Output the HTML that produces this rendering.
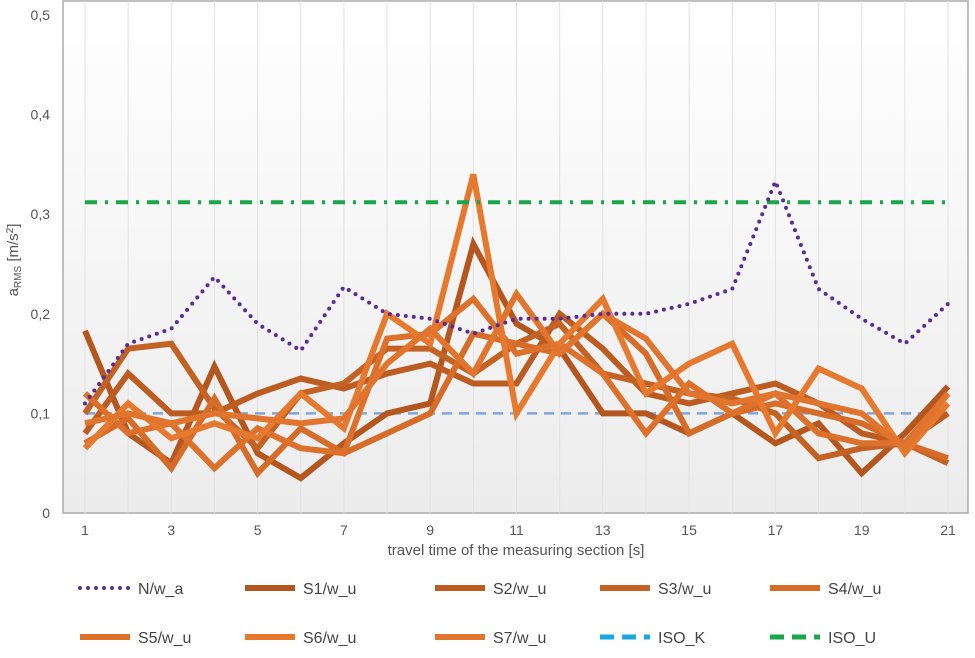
<!DOCTYPE html>
<html><head><meta charset="utf-8"><style>
body{margin:0;background:#fff;font-family:"Liberation Sans",sans-serif}
svg text{font-family:"Liberation Sans",sans-serif;fill:#555}
</style></head><body>
<svg id="c" width="975" height="653" xmlns="http://www.w3.org/2000/svg">
<defs><linearGradient id="bg" x1="0" y1="0" x2="0" y2="1"><stop offset="0" stop-color="#ffffff"/><stop offset="1" stop-color="#ececec"/></linearGradient></defs>
<rect x="63" y="1" width="905" height="512" fill="url(#bg)" stroke="#aaa" stroke-width="1.5"/>
<g id="grid"></g><g id="series"></g><g id="axes"></g><g id="legend"></g>
<text x="18" y="260" font-size="15" transform="rotate(-90 18 260)" text-anchor="middle">a<tspan font-size="10" dy="3">RMS</tspan><tspan dy="-3"> [m/s</tspan><tspan font-size="10" dy="-5">2</tspan><tspan dy="5">]</tspan></text>
<text x="516" y="555" font-size="15" text-anchor="middle">travel time of the measuring section [s]</text>
</svg>
<script>
const xs=[1,2,3,4,5,6,7,8,9,10,11,12,13,14,15,16,17,18,19,20,21];
const yTicks=[0,0.1,0.2,0.3,0.4,0.5];
const yTickLabels=["0","0,1","0,2","0,3","0,4","0,5"];
const xTickLabels=[1,3,5,7,9,11,13,15,17,19,21];
const N=[0.11,0.17,0.185,0.237,0.19,0.163,0.227,0.2,0.195,0.18,0.195,0.195,0.2,0.2,0.21,0.225,0.333,0.225,0.195,0.17,0.21];
const S1=[0.183,0.08,0.05,0.147,0.06,0.035,0.07,0.1,0.11,0.27,0.19,0.165,0.1,0.1,0.08,0.1,0.07,0.09,0.04,0.08,0.127];
const S2=[0.08,0.14,0.1,0.1,0.12,0.135,0.125,0.14,0.15,0.13,0.13,0.2,0.165,0.12,0.11,0.12,0.13,0.11,0.08,0.07,0.1];
const S3=[0.1,0.165,0.17,0.105,0.065,0.12,0.13,0.165,0.165,0.14,0.17,0.19,0.14,0.13,0.12,0.115,0.1,0.055,0.065,0.07,0.05];
const S4=[0.07,0.095,0.045,0.115,0.04,0.085,0.06,0.08,0.1,0.18,0.17,0.16,0.2,0.16,0.08,0.1,0.11,0.1,0.09,0.07,0.055];
const S5=[0.12,0.08,0.09,0.045,0.085,0.065,0.06,0.175,0.18,0.215,0.16,0.17,0.14,0.08,0.13,0.1,0.12,0.08,0.07,0.07,0.12];
const S6=[0.065,0.11,0.075,0.09,0.075,0.12,0.085,0.2,0.17,0.34,0.1,0.17,0.215,0.12,0.15,0.17,0.08,0.145,0.125,0.06,0.11];
const S7=[0.09,0.1,0.09,0.1,0.095,0.09,0.095,0.15,0.185,0.14,0.22,0.16,0.2,0.175,0.12,0.11,0.12,0.11,0.1,0.065,0.12];
const ISO_K=0.1, ISO_U=0.312;
const X=v=>85+(v-1)*43.15, Y=v=>513-v*996;
const NS='http://www.w3.org/2000/svg';
function mk(t,a,p){const e=document.createElementNS(NS,t);for(const k in a)e.setAttribute(k,a[k]);p.appendChild(e);return e;}
const g=document.getElementById('grid'),s=document.getElementById('series'),ax=document.getElementById('axes'),lg=document.getElementById('legend');
xs.forEach(v=>{const l=mk('line',{x1:X(v),x2:X(v),y1:1,y2:513,stroke:'#e2e2e2'},g);

});
yTicks.forEach((v,i)=>{const t=mk('text',{x:50,y:Y(v)+5,'font-size':14,'text-anchor':'end'},ax);t.textContent=yTickLabels[i];

});
xTickLabels.forEach(v=>{const t=mk('text',{x:X(v),y:535,'font-size':14,'text-anchor':'middle'},ax);t.textContent=v;

});
function line(data,col,w,dash,name){const p=mk('polyline',{points:data.map((v,i)=>X(xs[i])+','+Y(v)).join(' '),fill:'none',stroke:col,'stroke-width':w,'stroke-linejoin':'miter','stroke-dasharray':dash||'','stroke-linecap':dash&&dash.startsWith('0')?'round':'butt'},s);

}
const ser=[[S1,'#b4561e','s1-line'],[S2,'#bd5c20','s2-line'],[S3,'#c46224','s3-line'],[S4,'#d66c28','s4-line'],[S5,'#dd712b','s5-line'],[S6,'#e7792f','s6-line'],[S7,'#e1752d','s7-line']];
line(xs.map(()=>ISO_K),'#7fa6dc',2.5,'10 7','iso-k-line');
ser.forEach(a=>line(a[0],a[1],6,'',a[2]));
line(xs.map(()=>ISO_U),'#1aa64a',4,'12 8 3 8','iso-u-line');
line(N,'#5b2a9a',4,'0 8','n-w-a-line');
const L=[['N/w_a','#5b2a9a','0 8',4],['S1/w_u','#b4561e','',6],['S2/w_u','#bd5c20','',6],['S3/w_u','#c46224','',6],['S4/w_u','#d66c28','',6],['S5/w_u','#dd712b','',6],['S6/w_u','#e7792f','',6],['S7/w_u','#e1752d','',6],['ISO_K','#1ba8e0','14 8',5],['ISO_U','#1aa64a','14 8',5]];
const lx=[80,245,435,600,770];
L.forEach((e,i)=>{const x=lx[i%5],y=i<5?588:637;
const gg=mk('g',{},lg);


mk('line',{x1:x,x2:x+50,y1:y,y2:y,stroke:e[1],'stroke-width':e[3],'stroke-dasharray':e[2],'stroke-linecap':e[2].startsWith('0')?'round':'butt'},gg);
const t=mk('text',{x:x+58,y:y+6,'font-size':16,fill:'#444'},gg);t.style.fill='#444';t.textContent=e[0];});
</script>
</body></html>
